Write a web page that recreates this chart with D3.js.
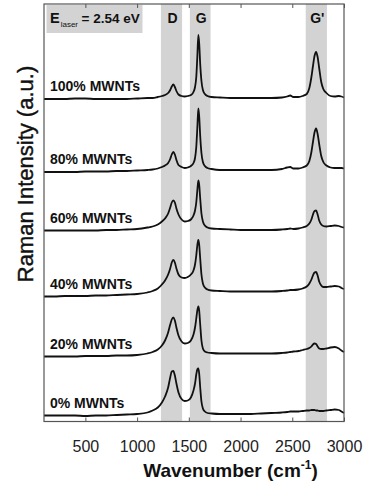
<!DOCTYPE html>
<html>
<head>
<meta charset="utf-8">
<script src="https://cdn.jsdelivr.net/npm/d3@7"></script>
<style>
  html, body { margin: 0; padding: 0; background: #fff; }
  svg { display: block; font-family: "Liberation Sans", Arial, sans-serif; }
</style>
</head>
<body>
<svg id="chart" width="365" height="484"></svg>
<script>
// Raman shift grid (cm^-1) shared by all spectra
const wavenumbers = [100, 200, 300, 400, 500, 600, 700, 800, 900, 1000,
  1100, 1150, 1200, 1240, 1270, 1300, 1320, 1335, 1350, 1365,
  1380, 1400, 1430, 1460, 1490, 1520, 1545, 1560, 1572, 1582,
  1592, 1600, 1610, 1622, 1636, 1655, 1680, 1720, 1800, 1900,
  2000, 2100, 2200, 2300, 2400, 2450, 2480, 2510, 2560, 2600,
  2640, 2665, 2685, 2700, 2715, 2730, 2745, 2760, 2780, 2800,
  2830, 2870, 2910, 2950, 2975, 3000];

const sampleNames = ["100% MWNTs", "80% MWNTs", "60% MWNTs", "40% MWNTs", "20% MWNTs", "0% MWNTs"];

// vertical offset of each stacked spectrum (a.u.)
const offsets = [322.5, 249.5, 191, 125, 65, 6];

// intensities above each spectrum's offset (a.u.)
const int100 = [0, 0, 0, 0.5, 0.5, 0, 0, 0, 0, 0.5,
  1, 1, 2, 3, 4, 6, 9, 12.5, 14.5, 12,
  8, 4.5, 3, 2.5, 3, 4, 7, 12, 22, 42,
  64, 56, 35, 18, 9, 5, 3, 2, 1.5, 1,
  1, 1, 1, 1, 1.5, 2.5, 3.5, 2, 2, 3,
  5, 11, 22, 33, 43, 47, 42, 31, 17, 10,
  6, 3, 2.5, 3, 2.5, 1.5];
const int80 = [0, 0, 0, 0, 0.5, 0.5, 0.5, 1, 1, 1.5,
  2, 2.5, 3.5, 5, 6.5, 9, 13, 17.5, 20, 17.5,
  12, 7, 5, 4, 4.5, 6, 9, 14, 25, 44,
  63.5, 56, 36, 19, 10, 6, 4, 3, 2, 2,
  2, 2, 2, 2, 3, 4.5, 5, 3.5, 3.5, 4.5,
  6.5, 11, 20, 30, 39.5, 43.5, 38, 28, 16, 10,
  6.5, 4.5, 4, 4, 4, 3.5];
const int60 = [0, 0, 0, 0, 0, 0, 0.5, 0.5, 1, 1.5,
  3, 4, 6, 9, 12, 17, 23, 28, 30, 28,
  22, 16, 11, 9, 9.5, 11, 15, 20, 28, 40,
  50, 46, 32, 17, 9, 5, 3, 2, 1.5, 1,
  0.5, 0.5, 0.5, 0.5, 1, 1.5, 2, 1.5, 2, 3,
  4.5, 7, 11, 16, 19.5, 20, 16, 10, 6, 4.5,
  4, 4.5, 5, 4.5, 3.5, 3];
const int40 = [0, 0, 0.5, 0.5, 0.5, 1, 1, 1.5, 2, 2.5,
  4, 5.5, 8, 12, 16, 22, 28, 34, 36.5, 34,
  28, 22, 19, 18.5, 19.5, 22, 26, 32, 41, 51,
  56.5, 52, 38, 22, 13, 9, 7, 6, 5.5, 5,
  5, 5, 5, 5, 5.5, 6, 6.5, 6.5, 7, 8,
  10, 13, 17, 21, 24, 24.5, 21, 15, 11, 9.5,
  9.5, 10, 10.5, 10, 8.5, 7.5];
const int20 = [0, 0, 0, 0, 0.5, 0.5, 0.5, 1, 1, 1.5,
  3, 4.5, 7, 11, 16, 24, 32, 37, 39, 36,
  29, 21, 15, 13, 13.5, 16, 22, 29, 38, 46,
  50, 46, 32, 16, 8, 5, 4, 3.5, 3, 3,
  3, 3, 3, 3, 3.5, 4, 4.5, 5, 5.5, 6.5,
  7.5, 8.5, 10, 12, 13, 12.5, 10, 8, 7.5, 7.5,
  8, 9, 9.5, 8, 6, 4.5];
const int0 = [0, 0, 0, 0, -0.5, 0, 0, 0.5, 1, 1.5,
  3, 5, 8, 13, 19, 28, 38, 44, 44.5, 40,
  32, 23, 16.5, 14.5, 15, 18, 25, 32, 41, 46,
  47, 42, 28, 14, 7, 4, 2.5, 2, 1.5, 1.5,
  1.5, 1.5, 2, 2.5, 3, 3.5, 4, 4, 4, 4.5,
  5, 5, 5.5, 5.5, 5.5, 5, 5, 4.5, 4.5, 4.5,
  5, 5.5, 6, 5.5, 4, 2.5];
const intensities = [int100, int80, int60, int40, int20, int0];

// shaded Raman band windows (cm^-1)
const bandNames = ["D", "G", "G'"];
const bandRanges = [[1230, 1435], [1510, 1710], [2630, 2835]];

const xTicks = [500, 1000, 1500, 2000, 2500, 3000];
const xDomain = [100, 3000];
const yDomain = [0, 417.5];

const svg = d3.select("#chart");
const plot = { left: 44, right: 344, top: 4, bottom: 421.5 };

const x = d3.scaleLinear().domain(xDomain).range([plot.left, plot.right]);
const y = d3.scaleLinear().domain(yDomain).range([plot.bottom, plot.top]);

// shaded bands
svg.append("g").selectAll("rect")
  .data(bandRanges)
  .join("rect")
  .attr("x", d => x(d[0]))
  .attr("width", d => x(d[1]) - x(d[0]))
  .attr("y", plot.top)
  .attr("height", plot.bottom - plot.top)
  .attr("fill", "#d3d3d3");

// excitation energy box
const eBox = svg.append("g");
eBox.append("rect")
  .attr("x", plot.left + 2.5).attr("y", plot.top + 1)
  .attr("width", 96).attr("height", 28)
  .attr("fill", "#d3d3d3");
const eText = eBox.append("text")
  .attr("x", plot.left + 6).attr("y", 23)
  .attr("fill", "#111").attr("font-weight", "bold").attr("font-size", 14.5);
eText.append("tspan").text("E");
eText.append("tspan").attr("font-size", 8).attr("font-weight", "normal")
  .attr("dy", 4).attr("dx", 1).text("laser");
eText.append("tspan").attr("font-size", 13.5).attr("dy", -4).attr("dx", 3.5).text("= 2.54 eV");

// band labels
svg.append("g").selectAll("text")
  .data(bandRanges)
  .join("text")
  .attr("x", d => x((d[0] + d[1]) / 2) + 1)
  .attr("y", 22.5)
  .attr("text-anchor", "middle")
  .attr("font-weight", "bold")
  .attr("font-size", 14)
  .attr("fill", "#111")
  .text((d, i) => bandNames[i]);

// spectra
const line = d3.line()
  .x(d => x(d[0]))
  .y(d => y(d[1]))
  .curve(d3.curveMonotoneX);

sampleNames.forEach((name, s) => {
  const pts = wavenumbers.map((w, i) => [w, offsets[s] + intensities[s][i]]);
  svg.append("path")
    .datum(pts)
    .attr("d", line)
    .attr("fill", "none")
    .attr("stroke", "#111")
    .attr("stroke-width", 1.8)
    .attr("stroke-linejoin", "round");
  svg.append("text")
    .attr("x", plot.left + 6)
    .attr("y", y(offsets[s]) - 8)
    .attr("font-weight", "bold")
    .attr("font-size", 14)
    .attr("fill", "#111")
    .text(name);
});

// axes with inward ticks
const bottomAxis = d3.axisBottom(x).tickValues(xTicks).tickSize(-4).tickPadding(19)
  .tickFormat(d3.format("d"));
const gB = svg.append("g").attr("transform", `translate(0,${plot.bottom})`).call(bottomAxis);
gB.select(".domain").remove();
gB.selectAll("line").attr("stroke", "#555");
gB.selectAll("text")
  .attr("font-size", 16)
  .attr("font-family", "'Liberation Sans', Arial, sans-serif")
  .attr("fill", "#222");

const topAxis = d3.axisTop(x).tickValues(xTicks).tickSize(-4).tickFormat("");
const gT = svg.append("g").attr("transform", `translate(0,${plot.top})`).call(topAxis);
gT.select(".domain").remove();
gT.selectAll("line").attr("stroke", "#555");

// frame
svg.append("rect")
  .attr("x", plot.left).attr("y", plot.top)
  .attr("width", plot.right - plot.left)
  .attr("height", plot.bottom - plot.top)
  .attr("fill", "none")
  .attr("stroke", "#555")
  .attr("stroke-width", 1.2);

// axis titles
const xt = svg.append("text")
  .attr("x", 230.5).attr("y", 477)
  .attr("text-anchor", "middle")
  .attr("font-weight", "bold")
  .attr("font-size", 19)
  .attr("fill", "#111");
xt.append("tspan").text("Wavenumber (cm");
xt.append("tspan").attr("font-size", 12).attr("dy", -8).text("-1");
xt.append("tspan").attr("dy", 8).text(")");

svg.append("text")
  .attr("transform", "translate(32.5,174) rotate(-90)")
  .attr("text-anchor", "middle")
  .attr("font-size", 22)
  .attr("fill", "#111")
  .attr("stroke", "#111")
  .attr("stroke-width", 0.4)
  .text("Raman Intensity (a.u.)");
</script>
</body>
</html>
